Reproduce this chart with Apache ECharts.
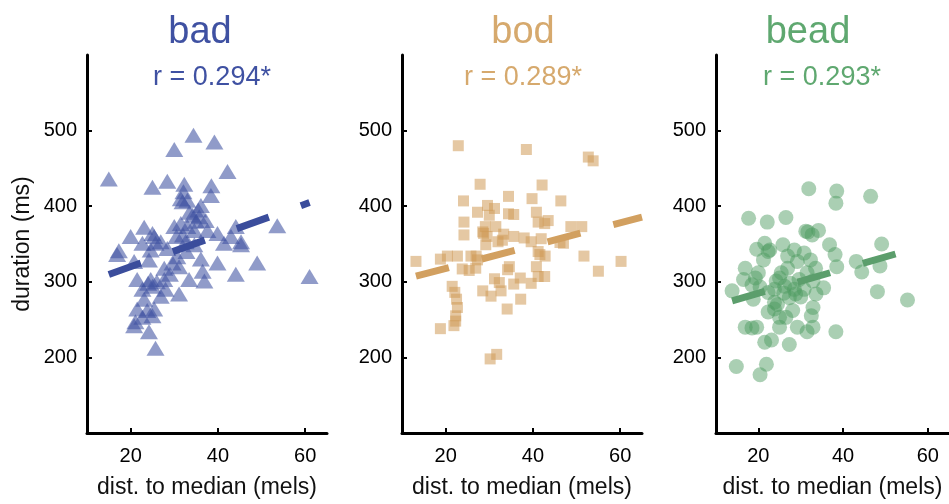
<!DOCTYPE html>
<html>
<head>
<meta charset="utf-8">
<script src="https://cdn.jsdelivr.net/npm/echarts@6.0.0/dist/echarts.min.js"></script>
<style>
  html, body { margin: 0; padding: 0; background: #fff; }
  #chart { width: 949px; height: 504px; }
</style>
</head>
<body>
<div id="chart"></div>
<script>
const panelNames = ["bad", "bod", "bead"]
const rLabels = ["r = 0.294*", "r = 0.289*", "r = 0.293*"]
const xTicks = [20, 40, 60]
const yTicks = [200, 300, 400, 500]

// bad (triangles)
const badX = [15.0, 30.0, 34.4, 39.2, 42.2, 25.0, 28.4, 32.3, 38.5, 38.4, 31.5, 31.9, 36.1, 32.1, 53.6, 44.1, 23.1, 20.0, 17.3, 16.9, 25.0, 25.7, 26.9, 30.0, 31.5, 33.0, 35.7, 37.2, 34.6, 37.6, 39.9, 41.4, 43.0, 45.3, 45.3, 49.0, 39.9, 44.1, 61.0, 36.1, 36.5, 36.9, 33.4, 31.1, 28.0, 27.7, 27.7, 31.1, 30.7, 28.4, 24.6, 25.0, 26.9, 22.7, 23.1, 21.5, 21.1, 23.8, 25.4, 24.2, 25.7, 20.8, 22.7, 25.0, 21.5, 20.8, 24.2, 24.6, 22.7, 25.4, 32.6, 34.6, 29.6, 32.0, 34.2, 33.5, 35.0, 30.5, 32.8, 24.0, 26.0, 29.0, 35.5, 33.0]
const badY = [436, 475, 494, 485, 446, 425, 433, 429, 427, 414, 410, 406, 401, 419, 374, 373, 372, 360, 341, 336, 364, 351, 353, 373, 377, 373, 386, 381, 368, 368, 364, 351, 360, 353, 349, 325, 325, 310, 307, 330, 314, 301, 303, 284, 290, 303, 318, 320, 333, 344, 303, 294, 281, 290, 277, 264, 247, 262, 264, 234, 212, 242, 253, 255, 303, 327, 329, 342, 351, 360, 353, 349, 325, 362, 388, 392, 380, 360, 340, 298, 300, 310, 395, 408]

// bod (squares)
const bodX = [13.2, 22.9, 38.5, 52.7, 53.8, 27.9, 42.1, 24.1, 39.8, 46.4, 34.4, 29.6, 31.2, 27.3, 30.0, 34.4, 35.6, 40.8, 41.2, 43.5, 42.7, 24.2, 24.2, 29.1, 28.7, 31.5, 33.3, 32.0, 29.2, 35.6, 39.6, 41.9, 48.7, 51.2, 46.2, 47.0, 41.2, 41.6, 42.8, 51.7, 60.2, 55.0, 20.4, 18.8, 22.7, 25.8, 27.3, 23.8, 25.4, 26.9, 34.6, 34.2, 31.2, 32.3, 35.6, 37.1, 39.6, 41.2, 42.7, 40.8, 28.5, 30.4, 32.7, 37.2, 34.1, 21.5, 22.1, 22.5, 22.7, 22.3, 21.9, 18.8, 30.2, 31.7, 22.3, 28.5, 33.0, 38.0, 29.5, 27.0]
const bodY = [327, 480, 475, 465, 460, 429, 428, 407, 410, 407, 413, 401, 397, 392, 388, 390, 389, 392, 379, 381, 377, 379, 362, 373, 364, 373, 363, 353, 349, 360, 353, 357, 373, 373, 352, 351, 340, 336, 334, 334, 327, 314, 334, 330, 334, 334, 329, 317, 315, 318, 320, 316, 304, 299, 297, 305, 298, 307, 307, 320, 288, 281, 288, 277, 264, 294, 286, 277, 266, 255, 242, 238, 198, 204, 248, 366, 355, 358, 360, 334]

// bead (circles)
const beadX = [31.9, 38.5, 38.3, 46.5, 17.7, 22.1, 26.5, 31.2, 31.7, 34.2, 32.7, 21.5, 25.8, 19.6, 22.7, 21.2, 16.9, 20.0, 16.5, 19.3, 13.8, 18.8, 36.8, 38.1, 38.5, 35.4, 43.1, 44.4, 49.1, 48.7, 48.1, 55.2, 38.3, 14.8, 21.9, 20.4, 27.3, 21.5, 23.1, 16.9, 18.5, 19.6, 22.3, 25.0, 29.2, 31.5, 32.9, 32.5, 32.9, 33.6, 23.8, 23.8, 25.0, 26.5, 28.1, 27.3, 28.8, 26.2, 24.2, 25.4, 26.9, 26.9, 29.2, 30.8, 32.3, 31.5, 33.5, 29.6, 30.8, 28.5, 23.8, 22.3, 25.0, 28.5, 22.3, 32.9, 18.5, 20.4, 26.0, 27.5, 30.0, 24.5]
const beadY = [423, 420, 404, 413, 384, 379, 385, 367, 366, 368, 362, 351, 349, 343, 342, 329, 318, 312, 303, 305, 288, 277, 349, 336, 320, 292, 327, 313, 350, 321, 287, 276, 234, 188, 191, 177, 217, 220, 223, 240, 239, 240, 260, 240, 240, 234, 240, 255, 266, 284, 273, 264, 253, 253, 262, 279, 284, 294, 301, 312, 318, 334, 327, 338, 329, 312, 318, 303, 290, 290, 290, 286, 305, 342, 340, 301, 296, 293, 285, 298, 280, 270]

// regression line end points
const fitX = [[15.0, 61.0], [13.2, 65.0], [13.8, 55.2]]
const fitY = [[309.6, 404.8], [307.4, 385.6], [274.8, 341.3]]

const titleColors = ["#3F51A2", "#D6A96D", "#5FA870"]
const markColors = ["rgba(63,81,162,0.72)", "rgba(207,154,85,0.68)", "rgba(78,154,96,0.6)"]
const fitColors = ["#3B4D9C", "#D2A060", "#5C9E6C"]

const font = "'Liberation Sans', Arial, Helvetica, sans-serif"
const gridLefts = [87, 402, 716]
const titleCx = [200, 523, 808]
const rCx = [212, 523, 822]

const pts = [badX, bodX, beadX].map((xs, i) => {
  const ys = [badY, bodY, beadY][i]
  return xs.map((x, j) => [x, ys[j]])
})

const grids = gridLefts.map((l) => ({ left: l, top: 55, width: 240, height: 383 }))

const xAxes = gridLefts.map((l, i) => ({
  type: "value",
  gridIndex: i,
  min: 10,
  max: 65,
  name: "dist. to median (mels)",
  nameLocation: "middle",
  nameGap: 43,
  nameTextStyle: { fontSize: 23, color: "#111", fontFamily: font },
  splitLine: { show: false },
  axisLine: { show: true, lineStyle: { color: "#000", width: 3 } },
  axisTick: { show: true, inside: true, length: 5, lineStyle: { color: "#000", width: 2 }, customValues: xTicks },
  axisLabel: { fontSize: 20, color: "#000", fontFamily: font, margin: 13, customValues: xTicks },
}))

const yAxes = gridLefts.map((l, i) => ({
  type: "value",
  gridIndex: i,
  min: 100,
  max: 600,
  name: i === 0 ? "duration (ms)" : "",
  nameLocation: "middle",
  nameRotate: 90,
  nameGap: 53,
  nameTextStyle: { fontSize: 23, color: "#111", fontFamily: font },
  splitLine: { show: false },
  axisLine: { show: true, lineStyle: { color: "#000", width: 3 } },
  axisTick: { show: true, inside: true, length: 5, lineStyle: { color: "#000", width: 2 }, customValues: yTicks },
  axisLabel: { fontSize: 20, color: "#000", fontFamily: font, margin: 10, customValues: yTicks },
}))

const symbols = ["triangle", "rect", "circle"]
const sizes = [[18, 15], 11, 15]

const series = []
pts.forEach((p, i) => {
  series.push({
    type: "scatter",
    xAxisIndex: i,
    yAxisIndex: i,
    symbol: symbols[i],
    symbolSize: sizes[i],
    itemStyle: { color: markColors[i] },
    data: p,
    z: 2,
  })
  series.push({
    type: "line",
    xAxisIndex: i,
    yAxisIndex: i,
    showSymbol: false,
    symbol: "none",
    silent: true,
    lineStyle: { color: fitColors[i], width: 7, type: [34, 34], cap: "butt" },
    data: fitX[i].map((x, j) => [x, fitY[i][j]]),
    z: 3,
  })
})

const texts = []
panelNames.forEach((n, i) => {
  texts.push({
    type: "text",
    x: titleCx[i],
    y: 33,
    style: { text: n, fill: titleColors[i], font: "38px " + font, align: "center", verticalAlign: "middle" },
  })
  texts.push({
    type: "text",
    x: rCx[i],
    y: 78,
    style: { text: rLabels[i], fill: titleColors[i], font: "27px " + font, align: "center", verticalAlign: "middle" },
  })
})

const chart = echarts.init(document.getElementById("chart"))
chart.setOption({
  animation: false,
  backgroundColor: "#fff",
  grid: grids,
  xAxis: xAxes,
  yAxis: yAxes,
  series: series,
  graphic: texts,
})
</script>
</body>
</html>
